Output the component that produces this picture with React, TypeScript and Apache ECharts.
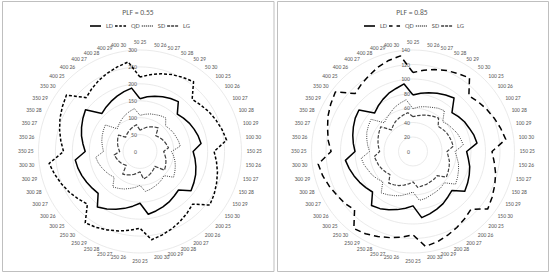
import React, { useEffect, useRef } from 'react';
import * as echarts from 'echarts';

const categories = [
  '50 25', '50 26', '50 27', '50 28', '50 29', '50 30',
  '100 25', '100 26', '100 27', '100 28', '100 29', '100 30',
  '150 25', '150 26', '150 27', '150 28', '150 29', '150 30',
  '200 25', '200 26', '200 27', '200 28', '200 29', '200 30',
  '250 25', '250 26', '250 27', '250 28', '250 29', '250 30',
  '300 25', '300 26', '300 27', '300 28', '300 29', '300 30',
  '350 25', '350 26', '350 27', '350 28', '350 29', '350 30',
  '400 25', '400 26', '400 27', '400 28', '400 29', '400 30',
];

const seriesNames = ['LD', 'QD', 'SD', 'LG'];

// PLF = 0.55
const ld055 = [
  156, 163, 169, 175, 181, 186,
  156, 162, 168, 173, 178, 182,
  157, 164, 171, 178, 184, 190,
  161, 166, 172, 177, 182, 187,
  153, 163, 174, 185, 196, 207,
  175, 178, 182, 186, 190, 193,
  162, 170, 179, 187, 195, 203,
  159, 165, 171, 177, 183, 189,
];
const qd055 = [
  220, 229, 238, 246, 253, 260,
  218, 226, 235, 243, 251, 258,
  219, 228, 237, 245, 253, 260,
  220, 229, 238, 247, 255, 263,
  227, 235, 243, 251, 259, 266,
  220, 230, 241, 251, 261, 271,
  226, 236, 246, 256, 265, 274,
  225, 234, 243, 251, 259, 267,
];
const sd055 = [
  107, 111, 115, 118, 122, 125,
  107, 110, 113, 115, 118, 120,
  93, 100, 107, 113, 119, 125,
  101, 105, 109, 112, 116, 119,
  100, 107, 113, 120, 126, 132,
  108, 113, 118, 123, 128, 132,
  108, 112, 117, 121, 125, 129,
  95, 102, 109, 116, 122, 128,
];
const lg055 = [
  63, 68, 74, 79, 84, 88,
  66, 70, 74, 78, 81, 85,
  70, 74, 79, 83, 87, 91,
  62, 66, 70, 74, 78, 82,
  60, 65, 70, 75, 80, 84,
  58, 62, 66, 70, 73, 77,
  60, 64, 68, 72, 76, 80,
  60, 64, 68, 72, 76, 80,
];

// PLF = 0.85
const ld085 = [
  78, 81, 84, 87, 90, 93,
  76, 79, 82, 84, 87, 89,
  74, 77, 81, 84, 87, 90,
  76, 79, 83, 86, 89, 92,
  75, 79, 83, 87, 91, 94,
  79, 82, 85, 88, 91, 94,
  80, 83, 86, 89, 92, 94,
  75, 79, 83, 87, 90, 94,
];
const qd085 = [
  109, 113, 117, 121, 124, 128,
  109, 113, 117, 121, 125, 129,
  109, 113, 118, 122, 126, 130,
  113, 117, 121, 125, 129, 132,
  115, 119, 123, 127, 131, 134,
  114, 118, 121, 125, 129, 132,
  113, 118, 122, 127, 131, 135,
  113, 117, 121, 126, 130, 133,
];
const sd085 = [
  59, 62, 64, 66, 69, 71,
  58, 61, 63, 66, 68, 70,
  58, 61, 65, 68, 71, 74,
  61, 63, 64, 65, 67, 68,
  56, 59, 63, 66, 69, 72,
  59, 62, 65, 67, 70, 72,
  60, 63, 66, 69, 71, 73,
  56, 59, 62, 66, 69, 72,
];
const lg085 = [
  48, 50, 52, 54, 56, 58,
  49, 51, 53, 54, 55, 56,
  47, 49, 52, 54, 56, 58,
  47, 48, 48, 49, 49, 50,
  42, 45, 48, 51, 53, 55,
  45, 47, 49, 51, 52, 54,
  46, 48, 50, 52, 54, 56,
  42, 45, 48, 50, 52, 54,
];

const titles = ['PLF = 0.55', 'PLF = 0.85'];
const axisMax = [300, 140];
const axisSplit = [6, 7];

const FONT = "Carlito, 'Liberation Sans', Arial, sans-serif";
const TEXT = '#595959';

// ECharts lays indicators counter-clockwise; Excel runs clockwise.
const clockwise = <T,>(a: T[]): T[] => [a[0], ...a.slice(1).reverse()];

const makeRadar = (cx: number, max: number, split: number) => ({
  center: [cx, 151.5],
  radius: 101.5,
  startAngle: 90,
  splitNumber: split,
  shape: 'circle',
  nameGap: 5,
  indicator: clockwise(categories).map((c, i) =>
    i === 0
      ? { name: c, min: 0, max, axisLabel: { show: true } }
      : { name: c, min: 0, max }
  ),
  axisName: { color: TEXT, fontSize: 5.6, fontFamily: FONT },
  axisLine: { show: false },
  axisTick: { show: false },
  splitArea: { show: false },
  splitLine: { lineStyle: { color: '#e4e4e4', width: 0.8 } },
  axisLabel: { show: false, color: TEXT, fontSize: 5.8, fontFamily: FONT, margin: 3 },
});

const styles055 = [
  { color: '#000000', width: 1.5, type: 'solid' },
  { color: '#000000', width: 1.5, type: [3, 2] },
  { color: '#404040', width: 1, type: [1, 1.2] },
  { color: '#404040', width: 1.2, type: [4, 1.6] },
];
const styles085 = [
  { color: '#000000', width: 1.5, type: 'solid' },
  { color: '#000000', width: 1.5, type: [6, 4] },
  { color: '#404040', width: 1, type: [1, 1.2] },
  { color: '#404040', width: 1.2, type: [3.5, 1.6] },
];

const icons055 = [
  'path://M0,0h11v1.6h-11z',
  'path://M0,0h2.6v1.6h-2.6z M4.2,0h2.6v1.6h-2.6z M8.4,0h2.6v1.6h-2.6z',
  'path://M0,0h1v1.6h-1z M2,0h1v1.6h-1z M4,0h1v1.6h-1z M6,0h1v1.6h-1z M8,0h1v1.6h-1z M10,0h1v1.6h-1z',
  'path://M0,0h3v1.6h-3z M4,0h3v1.6h-3z M8,0h3v1.6h-3z',
];
const icons085 = [
  'path://M0,0h11v1.6h-11z',
  'path://M0,0h3.5v1.6h-3.5z M7.5,0h3.5v1.6h-3.5z',
  'path://M0,0h1v1.6h-1z M2,0h1v1.6h-1z M4,0h1v1.6h-1z M6,0h1v1.6h-1z M8,0h1v1.6h-1z M10,0h1v1.6h-1z',
  'path://M0,0h3v1.6h-3z M4,0h3v1.6h-3z M8,0h3v1.6h-3z',
];

const makeLegend = (left: number, icons: string[], styles: any[]) => ({
  left,
  top: 17.5,
  orient: 'horizontal',
  itemWidth: 11,
  itemHeight: 1.6,
  itemGap: 2,
  selectedMode: false,
  textStyle: { color: TEXT, fontSize: 6.8, fontFamily: FONT },
  data: seriesNames.map((n, i) => ({
    name: n,
    icon: icons[i],
    itemStyle: { color: styles[i].color, borderWidth: 0 },
    lineStyle: { width: 0 },
  })),
});

export default function App() {
  const ref = useRef<HTMLDivElement>(null);
  useEffect(() => {
    document.body.style.margin = '0';
    const chart = echarts.init(ref.current!, null, { renderer: 'svg' });
    const vals055 = [ld055, qd055, sd055, lg055];
    const vals085 = [ld085, qd085, sd085, lg085];
    const option = {
      animation: false,
      backgroundColor: '#ffffff',
      graphic: [
        { type: 'rect', shape: { x: 2.5, y: 1.5, width: 271.5, height: 270 }, style: { fill: 'none', stroke: '#bfbfbf', lineWidth: 1 }, silent: true },
        { type: 'rect', shape: { x: 277.5, y: 1.5, width: 271, height: 270 }, style: { fill: 'none', stroke: '#bfbfbf', lineWidth: 1 }, silent: true },
        { type: 'text', x: 138, y: 12, style: { text: titles[0], fill: TEXT, fontSize: 7.6, fontFamily: FONT, textAlign: 'center', textVerticalAlign: 'middle' } },
        { type: 'text', x: 412, y: 12, style: { text: titles[1], fill: TEXT, fontSize: 7.6, fontFamily: FONT, textAlign: 'center', textVerticalAlign: 'middle' } },
      ],
      legend: [makeLegend(85, icons055, styles055), makeLegend(359, icons085, styles085)],
      radar: [makeRadar(140, axisMax[0], axisSplit[0]), makeRadar(413, axisMax[1], axisSplit[1])],
      series: [
        {
          type: 'radar',
          radarIndex: 0,
          symbol: 'none',
          data: seriesNames.map((n, i) => ({
            name: n,
            value: clockwise(vals055[i]),
            lineStyle: styles055[i],
            itemStyle: { color: styles055[i].color },
          })),
        },
        {
          type: 'radar',
          radarIndex: 1,
          symbol: 'none',
          data: seriesNames.map((n, i) => ({
            name: n,
            value: clockwise(vals085[i]),
            lineStyle: styles085[i],
            itemStyle: { color: styles085[i].color },
          })),
        },
      ],
    };
    chart.setOption(option as any);
    return () => chart.dispose();
  }, []);
  return <div ref={ref} style={{ width: 550, height: 276 }} />;
}
